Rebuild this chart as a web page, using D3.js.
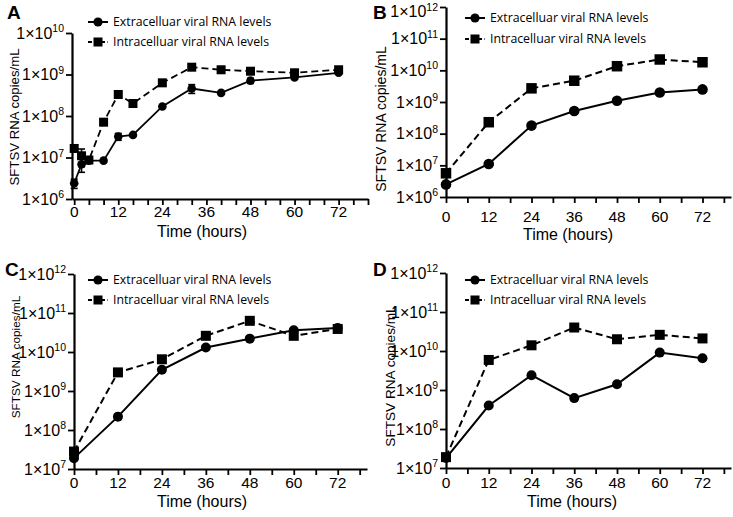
<!DOCTYPE html>
<html><head><meta charset="utf-8">
<script src="https://cdn.jsdelivr.net/npm/d3@7"></script>
<style>body{margin:0;background:#fff;} svg{display:block;}</style>
</head><body>
<svg id="chart" width="733" height="517"></svg>
<script>
// ---- data ----
const legendLabels = ["Extracelluar viral RNA levels", "Intracelluar viral RNA levels"];
const xTitle = "Time (hours)";
const yTitle = "SFTSV RNA copies/mL";
const panelLetters = ["A", "B", "C", "D"];
const xTickLabels = [0, 12, 24, 36, 48, 60, 72];

const timeA = [0, 2, 4, 8, 12, 16, 24, 32, 40, 48, 60, 72];
const extA = [2.4e6, 6.9e6, 8.4e6, 8.4e6, 3.2e7, 3.5e7, 1.7e8, 4.6e8, 3.6e8, 7.1e8, 8.5e8, 1.1e9];
const intA = [1.65e7, 1.1e7, 8.7e6, 7.1e7, 3.3e8, 2.0e8, 6.3e8, 1.5e9, 1.3e9, 1.2e9, 1.1e9, 1.3e9];
const extErrA = [6e5, 2.5e6, 0, 0, 6e6, 0, 0, 1.1e8, 0, 1e8, 0, 0];
const intErrA = [0, 5e6, 0, 0, 0, 0, 0, 0, 0, 0, 0, 0];

const timeBCD = [0, 12, 24, 36, 48, 60, 72];
const extB = [2.5e6, 1.1e7, 1.8e8, 5.2e8, 1.1e9, 2.0e9, 2.5e9];
const intB = [5.6e6, 2.3e8, 2.7e9, 4.7e9, 1.35e10, 2.2e10, 1.8e10];
const extC = [1.9e7, 2.2e8, 3.5e9, 1.3e10, 2.2e10, 3.6e10, 4.1e10];
const intC = [2.8e7, 3.0e9, 6.5e9, 2.6e10, 6.3e10, 2.6e10, 3.9e10];
const extD = [1.8e7, 4.0e8, 2.4e9, 6.2e8, 1.4e9, 9.1e9, 6.5e9];
const intD = [1.9e7, 5.9e9, 1.4e10, 4.0e10, 2.0e10, 2.6e10, 2.1e10];

const yTicksA = [1e6, 1e7, 1e8, 1e9, 1e10];
const yTicksB = [1e6, 1e7, 1e8, 1e9, 1e10, 1e11, 1e12];
const yTicksCD = [1e7, 1e8, 1e9, 1e10, 1e11, 1e12];

// ---- layout ----
const panels = [
  {letter: panelLetters[0], lx: 7, ly: 19, time: timeA, ext: extA, int: intA, extErr: extErrA, intErr: intErrA,
   xDom: [-0.6, 80], xRange: [72, 368], xStep: 4, yDom: [1e6, 1e10], yRange: [199, 33], yTicks: yTicksA,
   legX: 88, legY: [22, 42], yTitleX: 19, yTitleY: 117, yTitleSize: 13.2, xTitleX: 202, xTitleY: 237, xTickY: 216.5,
   r: 4.3, sq: 9, lw: 1.8},
  {letter: panelLetters[1], lx: 373, ly: 19, time: timeBCD, ext: extB, int: intB,
   xDom: [0, 80], xRange: [446, 731], xStep: 6, yDom: [1e6, 1e12], yRange: [197, 7], yTicks: yTicksB,
   legX: 465, legY: [18, 39], yTitleX: 386, yTitleY: 119, yTitleSize: 14, xTitleX: 568, xTitleY: 240, xTickY: 222,
   r: 5.3, sq: 10.5, lw: 2},
  {letter: panelLetters[2], lx: 5, ly: 276, time: timeBCD, ext: extC, int: intC,
   xDom: [0, 80], xRange: [74, 367], xStep: 6, yDom: [1e7, 1e12], yRange: [469, 274], yTicks: yTicksCD,
   legX: 88, legY: [280, 300], yTitleX: 20, yTitleY: 357, yTitleSize: 11.8, xTitleX: 202, xTitleY: 507, xTickY: 488,
   r: 5, sq: 10, lw: 2},
  {letter: panelLetters[3], lx: 373, ly: 276, time: timeBCD, ext: extD, int: intD,
   xDom: [0, 80], xRange: [446, 731], xStep: 6, yDom: [1e7, 1e12], yRange: [468, 273], yTicks: yTicksCD,
   legX: 465, legY: [280, 300], yTitleX: 395, yTitleY: 376, yTitleSize: 13.6, xTitleX: 572, xTitleY: 507, xTickY: 488,
   r: 5, sq: 10, lw: 2}
];

const svg = d3.select("#chart");

panels.forEach(p => {
  const g = svg.append("g");
  const x = d3.scaleLinear().domain(p.xDom).range(p.xRange);
  const y = d3.scaleLog().domain(p.yDom).range(p.yRange);

  // x axis
  const xt = d3.range(0, p.xDom[1] + 0.01, p.xStep);
  const xAxis = g.append("g").attr("transform", `translate(0,${p.yRange[0]})`)
    .call(d3.axisBottom(x).tickValues(xt).tickSize(6).tickSizeOuter(0).tickFormat(""));
  xAxis.select(".domain").attr("stroke-width", 2.2);
  xAxis.selectAll(".tick line").attr("stroke-width", 1.8);
  g.append("g").selectAll("text").data(xTickLabels).join("text")
    .attr("x", d => x(d)).attr("y", p.xTickY)
    .attr("text-anchor", "middle")
    .attr("font-family", "Liberation Sans, Arial, sans-serif").attr("font-size", 15.5)
    .text(d => d);

  // y axis
  const yAxis = g.append("g").attr("transform", `translate(${x(p.xDom[0])},0)`)
    .call(d3.axisLeft(y).tickValues(p.yTicks).tickSize(6).tickSizeOuter(0).tickFormat(""));
  yAxis.select(".domain").attr("stroke-width", 2.2);
  yAxis.selectAll(".tick line").attr("stroke-width", 1.8);
  const yl = g.append("g").selectAll("text").data(p.yTicks).join("text")
    .attr("x", x(p.xDom[0]) - 8).attr("y", d => Math.max(y(d) + 5.5, 17))
    .attr("text-anchor", "end")
    .attr("font-family", "Liberation Sans, Arial, sans-serif").attr("font-size", 16);
  yl.append("tspan").text("1×10");
  yl.append("tspan").attr("dy", -6.5).attr("font-size", 10.5).text(d => String(Math.round(Math.log10(d))));

  // titles
  g.append("text").attr("x", p.xTitleX).attr("y", p.xTitleY).attr("text-anchor", "middle")
    .attr("font-family", "Liberation Sans, Arial, sans-serif").attr("font-size", 16).text(xTitle);
  g.append("text").attr("transform", `translate(${p.yTitleX},${p.yTitleY}) rotate(-90)`)
    .attr("text-anchor", "middle")
    .attr("font-family", "Liberation Sans, Arial, sans-serif").attr("font-size", p.yTitleSize).text(yTitle);
  g.append("text").attr("x", p.lx).attr("y", p.ly)
    .attr("font-family", "Liberation Sans, Arial, sans-serif").attr("font-weight", "bold").attr("font-size", 19)
    .text(p.letter);

  // lines
  const line = d3.line().x(d => x(d[0])).y(d => y(d[1]));
  const extPts = p.time.map((t, i) => [t, p.ext[i]]);
  const intPts = p.time.map((t, i) => [t, p.int[i]]);
  g.append("path").attr("d", line(intPts)).attr("fill", "none").attr("stroke", "#000")
    .attr("stroke-width", p.lw).attr("stroke-dasharray", "7,4");
  g.append("path").attr("d", line(extPts)).attr("fill", "none").attr("stroke", "#000")
    .attr("stroke-width", p.lw);

  // error bars
  const drawErr = (vals, errs) => {
    if (!errs) return;
    p.time.forEach((t, i) => {
      const e = errs[i];
      if (!e) return;
      const cx = x(t), y1 = y(vals[i] + e), y2 = y(Math.max(vals[i] - e, p.yDom[0]));
      g.append("line").attr("x1", cx).attr("x2", cx).attr("y1", y1).attr("y2", y2).attr("stroke", "#000").attr("stroke-width", 1.6);
      [y1, y2].forEach(yy => g.append("line").attr("x1", cx - 3.5).attr("x2", cx + 3.5).attr("y1", yy).attr("y2", yy)
        .attr("stroke", "#000").attr("stroke-width", 1.6));
    });
  };
  drawErr(p.ext, p.extErr);
  drawErr(p.int, p.intErr);

  // markers
  g.append("g").selectAll("rect").data(intPts).join("rect")
    .attr("x", d => x(d[0]) - p.sq / 2).attr("y", d => y(d[1]) - p.sq / 2)
    .attr("width", p.sq).attr("height", p.sq).attr("fill", "#000");
  g.append("g").selectAll("circle").data(extPts).join("circle")
    .attr("cx", d => x(d[0])).attr("cy", d => y(d[1])).attr("r", p.r).attr("fill", "#000");

  // legend
  const leg = g.append("g");
  legendLabels.forEach((lab, i) => {
    const ly = p.legY[i];
    leg.append("line").attr("x1", p.legX).attr("x2", p.legX + 20).attr("y1", ly).attr("y2", ly)
      .attr("stroke", "#000").attr("stroke-width", 2).attr("stroke-dasharray", i === 1 ? "4,2.5" : null);
    if (i === 0) leg.append("circle").attr("cx", p.legX + 10).attr("cy", ly).attr("r", 4.6).attr("fill", "#000");
    else leg.append("rect").attr("x", p.legX + 5.5).attr("y", ly - 4.5).attr("width", 9).attr("height", 9).attr("fill", "#000");
    leg.append("text").attr("x", p.legX + 25).attr("y", ly + 4.4)
      .attr("font-family", "Open Sans, Noto Sans, sans-serif").attr("font-size", 12.3).text(lab);
  });
});
</script>
</body></html>
